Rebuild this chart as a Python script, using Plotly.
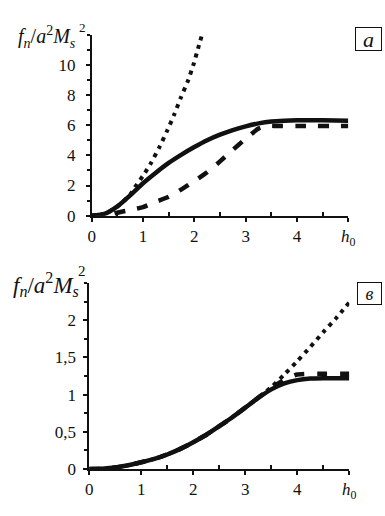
import plotly.graph_objects as go

# ---- panel a (top) ----
a_solid_x = [0, 0.25, 0.5, 0.75, 1.0, 1.25, 1.5, 1.75, 2.0, 2.25, 2.5, 2.75, 3.0, 3.25, 3.5, 3.75, 4.0, 4.5, 5.0]
a_solid_y = [0, 0.12, 0.62, 1.35, 2.15, 2.85, 3.5, 4.05, 4.55, 5.0, 5.37, 5.68, 5.92, 6.12, 6.25, 6.3, 6.32, 6.32, 6.3]

a_dash_x = [0, 0.3, 0.5, 0.75, 1.0, 1.25, 1.5, 1.75, 2.0, 2.25, 2.5, 2.75, 3.0, 3.25, 3.4, 3.6, 4.0, 5.0]
a_dash_y = [0, 0.05, 0.2, 0.38, 0.57, 0.92, 1.25, 1.75, 2.3, 2.88, 3.6, 4.37, 5.1, 5.78, 5.95, 5.95, 5.95, 5.95]

a_dot_x = [0, 0.25, 0.5, 0.75, 0.86, 1.0, 1.15, 1.32, 1.47, 1.61, 1.74, 1.88, 1.99, 2.09, 2.15]
a_dot_y = [0, 0.12, 0.6, 1.4, 1.97, 2.65, 3.46, 4.55, 5.63, 6.72, 7.85, 8.98, 10.1, 11.3, 12.0]

# ---- panel в (bottom) ----
b_solid_x = [0, 0.25, 0.5, 0.75, 1.0, 1.25, 1.5, 1.75, 2.0, 2.25, 2.5, 2.75, 3.0, 3.25, 3.5, 3.75, 4.0, 4.25, 4.5, 5.0]
b_solid_y = [0, 0.005, 0.02, 0.05, 0.09, 0.135, 0.195, 0.27, 0.36, 0.46, 0.575, 0.695, 0.825, 0.955, 1.07, 1.15, 1.195, 1.215, 1.22, 1.22]

b_dash_x = [0, 0.25, 0.5, 0.75, 1.0, 1.25, 1.5, 1.75, 2.0, 2.25, 2.5, 2.75, 3.0, 3.25, 3.5, 3.75, 4.0, 4.25, 4.5, 5.0]
b_dash_y = [0, 0.005, 0.02, 0.05, 0.09, 0.135, 0.195, 0.27, 0.36, 0.46, 0.575, 0.695, 0.825, 0.96, 1.09, 1.2, 1.27, 1.28, 1.28, 1.28]

b_dot_x = [0, 0.25, 0.5, 0.75, 1.0, 1.25, 1.5, 1.75, 2.0, 2.25, 2.5, 2.75, 3.0, 3.25, 3.5, 3.75, 4.0, 4.25, 4.5, 4.75, 5.0]
b_dot_y = [0, 0.005, 0.02, 0.05, 0.09, 0.135, 0.195, 0.27, 0.36, 0.46, 0.575, 0.695, 0.825, 0.96, 1.1, 1.27, 1.45, 1.64, 1.84, 2.03, 2.24]

x_ticks = [0, 1, 2, 3, 4, 5]
x_ticktext = ["0", "1", "2", "3", "4", "<i>h</i><sub>0</sub>"]
x_minor = [0.5, 1.5, 2.5, 3.5, 4.5]

a_yticks = [0, 2, 4, 6, 8, 10]
a_yticktext = ["0", "2", "4", "6", "8", "10"]
a_yminor = [1, 3, 5, 7, 9, 11, 12]

b_yticks = [0, 0.5, 1, 1.5, 2]
b_yticktext = ["0", "0,5", "1", "1,5", "2"]
b_yminor = [0.25, 0.75, 1.25, 1.75, 2.25, 2.5]

W, H = 385, 516
INK = "#111111"
SERIF = "Liberation Serif"

fig = go.Figure()

def add_curves(xs, ys, xa, ya, dash, width):
    fig.add_trace(go.Scatter(x=xs, y=ys, mode="lines", xaxis=xa, yaxis=ya,
                             line=dict(color=INK, width=width, dash=dash, shape="spline", smoothing=0.5),
                             showlegend=False, hoverinfo="skip"))

add_curves(a_dot_x, a_dot_y, "x", "y", "4px,5px", 4)
add_curves(a_dash_x, a_dash_y, "x", "y", "11px,12px", 4.5)
add_curves(a_solid_x, a_solid_y, "x", "y", "solid", 4.5)

add_curves(b_dot_x, b_dot_y, "x2", "y2", "4px,5px", 4)
add_curves(b_dash_x, b_dash_y, "x2", "y2", "10px,13px", 4.5)
add_curves(b_solid_x, b_solid_y, "x2", "y2", "solid", 4.5)

def px_x(p):
    return p / W

def px_y(p):
    return (H - p) / H

xaxis_common = dict(range=[0, 5], showgrid=False, zeroline=False, showline=True,
                    linecolor=INK, linewidth=1.8, ticks="outside", ticklen=4, tickwidth=1.5,
                    tickcolor=INK, tickmode="array", tickvals=x_ticks, ticktext=x_ticktext,
                    tickfont=dict(family=SERIF, size=17, color=INK), automargin=False,
                    minor=dict(tickmode="array", tickvals=x_minor, ticks="inside", ticklen=4,
                               tickwidth=1.5, tickcolor=INK))

yaxis_common = dict(showgrid=False, zeroline=False, showline=True, linecolor=INK, linewidth=1.8,
                    ticks="outside", ticklen=4, tickwidth=1.5, tickcolor=INK, tickmode="array",
                    tickfont=dict(family=SERIF, size=17, color=INK), automargin=False)

fig.update_layout(
    width=W, height=H,
    margin=dict(l=0, r=0, t=0, b=0, pad=0),
    paper_bgcolor="white", plot_bgcolor="white",
    font=dict(family=SERIF, color=INK),
    xaxis=dict(**xaxis_common, domain=[px_x(91.7), px_x(348.3)], anchor="y"),
    yaxis=dict(**yaxis_common, range=[0, 12], domain=[px_y(215.7), px_y(34.7)], anchor="x",
               tickvals=a_yticks, ticktext=a_yticktext, ticklabelstandoff=7,
               minor=dict(tickmode="array", tickvals=a_yminor, ticks="outside", ticklen=3,
                          tickwidth=1.5, tickcolor=INK)),
    xaxis2=dict(**xaxis_common, domain=[px_x(89.3), px_x(349.3)], anchor="y2"),
    yaxis2=dict(**yaxis_common, range=[0, 2.5], domain=[px_y(469), px_y(283)], anchor="x2",
                tickvals=b_yticks, ticktext=b_yticktext, ticklabelstandoff=4,
                minor=dict(tickmode="array", tickvals=b_yminor, ticks="outside", ticklen=3,
                           tickwidth=1.5, tickcolor=INK)),
)

# y-axis titles
def ytitle(x0, ybase, size):
    fig.add_annotation(xref="paper", yref="paper", x=px_x(x0), y=px_y(ybase),
                       xanchor="left", yanchor="middle", showarrow=False,
                       text="<i>f</i><sub><i>n</i></sub>/<i>a</i><sup>2</sup><i>M</i><sub><i>s</i></sub>",
                       font=dict(family=SERIF, size=size, color=INK))

ytitle(16, 37, 20)
fig.add_annotation(xref="paper", yref="paper", x=px_x(82), y=px_y(28), xanchor="center",
                   yanchor="middle", showarrow=False, text="2",
                   font=dict(family=SERIF, size=13, color=INK))
ytitle(11, 284, 23)
fig.add_annotation(xref="paper", yref="paper", x=px_x(82), y=px_y(271), xanchor="center",
                   yanchor="middle", showarrow=False, text="2",
                   font=dict(family=SERIF, size=15, color=INK))

# panel letters
fig.add_annotation(xref="paper", yref="paper", x=px_x(368.5), y=px_y(39), xanchor="center",
                   yanchor="middle", showarrow=False, text="<i>a</i>", width=25, height=22,
                   borderpad=0, bordercolor=INK, borderwidth=1,
                   font=dict(family=SERIF, size=22, color=INK))
fig.add_annotation(xref="paper", yref="paper", x=px_x(369.5), y=px_y(293.5), xanchor="center",
                   yanchor="middle", showarrow=False, text="<i>в</i>", width=23, height=21,
                   borderpad=0, bordercolor=INK, borderwidth=1,
                   font=dict(family=SERIF, size=18, color=INK))

fig.write_html("out.html", config={"displayModeBar": False},
               post_script="document.body.style.margin='0';")
